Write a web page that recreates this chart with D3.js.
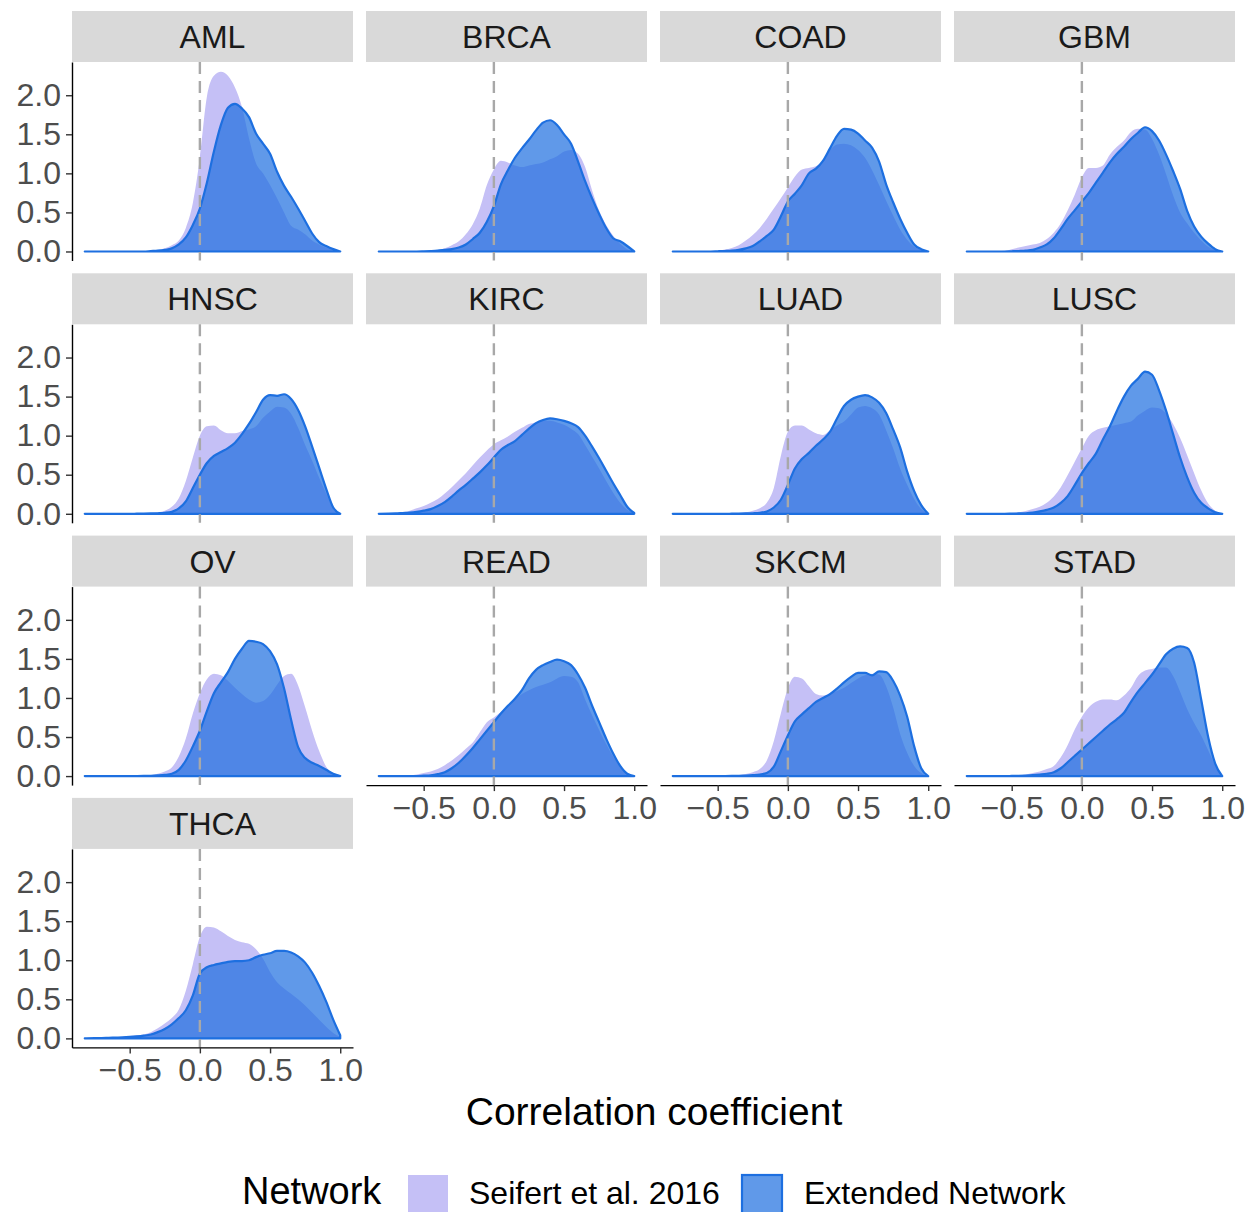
<!DOCTYPE html>
<html>
<head>
<meta charset="utf-8">
<script src="https://cdn.jsdelivr.net/npm/d3@7"></script>
<style>
  body { margin: 0; background: #fff; }
  svg { display: block; font-family: "Liberation Sans", Arial, Helvetica, sans-serif; }
</style>
</head>
<body>
<svg id="chart" width="1249" height="1212"></svg>
<script>
// Cancer types, in facet order (4 columns, wrapped)
const cancerTypes = ["AML", "BRCA", "COAD", "GBM", "HNSC", "KIRC", "LUAD", "LUSC",
                     "OV", "READ", "SKCM", "STAD", "THCA"];

// Correlation coefficient grid on which the densities are given
const gridX = [-0.82, -0.75, -0.70, -0.65, -0.60, -0.55, -0.50, -0.45, -0.40, -0.35,
               -0.30, -0.25, -0.20, -0.15, -0.10, -0.05, 0.00, 0.05, 0.10, 0.15,
               0.20, 0.25, 0.30, 0.35, 0.40, 0.45, 0.50, 0.55, 0.60, 0.65,
               0.70, 0.75, 0.80, 0.85, 0.90, 0.95, 1.00];

// Density of correlation coefficients, Seifert et al. 2016 network
const seifertAML  = [0,0,0,0,0,0, 0,0,0,0.01,0.02,0.04,0.08,0.14,0.30,0.62, 1.20,1.98,2.25,2.30,2.25,2.10,1.85,1.45,1.13,1.00, 0.85,0.68,0.50,0.33,0.28,0.22,0.14,0.09,0.05,0.02, 0];
const seifertBRCA = [0,0,0,0,0,0, 0.005,0.01,0.02,0.04,0.08,0.13,0.22,0.35,0.55,0.85, 1.05,1.16,1.14,1.10,1.08,1.10,1.12,1.14,1.18,1.22, 1.28,1.30,1.25,1.08,0.78,0.52,0.34,0.20,0.10,0.03, 0];
const seifertCOAD = [0,0,0,0,0,0.005, 0.01,0.025,0.045,0.08,0.14,0.21,0.30,0.42,0.55,0.68, 0.82,0.96,1.05,1.07,1.09,1.16,1.30,1.37,1.38,1.36, 1.30,1.20,1.04,0.85,0.65,0.46,0.28,0.15,0.06,0.02, 0];
const seifertGBM  = [0,0,0,0,0.005,0.01, 0.03,0.05,0.07,0.09,0.11,0.16,0.24,0.36,0.53,0.73, 0.95,1.07,1.07,1.10,1.24,1.34,1.42,1.53,1.57,1.56, 1.44,1.24,0.99,0.72,0.50,0.36,0.24,0.14,0.06,0.02, 0];
const seifertHNSC = [0,0,0,0,0,0, 0,0.002,0.005,0.01,0.02,0.04,0.09,0.20,0.42,0.72, 1.00,1.12,1.13,1.07,1.03,1.03,1.06,1.08,1.12,1.23, 1.31,1.37,1.36,1.28,1.10,0.88,0.68,0.46,0.26,0.06, 0];
const seifertKIRC = [0,0.005,0.01,0.02,0.04,0.07, 0.10,0.14,0.19,0.26,0.34,0.43,0.52,0.62,0.72,0.81, 0.89,0.94,0.99,1.05,1.10,1.15,1.17,1.19,1.19,1.17, 1.14,1.09,1.02,0.88,0.73,0.58,0.42,0.27,0.14,0.05, 0.01];
const seifertLUAD = [0,0,0,0,0,0, 0,0.002,0.005,0.01,0.02,0.04,0.07,0.14,0.33,0.74, 1.05,1.13,1.13,1.08,1.03,1.01,1.07,1.13,1.18,1.27, 1.36,1.38,1.35,1.27,1.07,0.84,0.58,0.37,0.19,0.06, 0];
const seifertLUSC = [0,0,0,0,0.002,0.005, 0.01,0.02,0.035,0.06,0.09,0.14,0.22,0.34,0.50,0.67, 0.84,1.00,1.07,1.10,1.12,1.14,1.16,1.18,1.26,1.32, 1.36,1.35,1.28,1.15,0.97,0.75,0.52,0.30,0.13,0.04, 0];
const seifertOV   = [0,0,0,0,0,0, 0.001,0.003,0.006,0.012,0.03,0.06,0.11,0.25,0.48,0.80, 1.06,1.24,1.31,1.29,1.22,1.13,1.05,0.98,0.94,0.96, 1.04,1.17,1.28,1.31,1.16,0.88,0.58,0.32,0.12,0.03, 0];
const seifertREAD = [0,0,0,0.005,0.01,0.02, 0.04,0.06,0.09,0.14,0.20,0.27,0.35,0.43,0.56,0.69, 0.75,0.82,0.90,0.98,1.05,1.10,1.14,1.17,1.20,1.25, 1.28,1.27,1.20,0.98,0.78,0.59,0.41,0.25,0.12,0.04, 0];
const seifertSKCM = [0,0,0,0,0,0, 0.001,0.003,0.006,0.012,0.025,0.05,0.09,0.20,0.45,0.80, 1.12,1.27,1.25,1.15,1.05,1.03,1.06,1.09,1.13,1.19, 1.25,1.29,1.31,1.30,1.15,0.88,0.54,0.30,0.13,0.04, 0];
const seifertSTAD = [0,0,0,0,0,0.002, 0.005,0.01,0.02,0.04,0.06,0.09,0.13,0.24,0.40,0.60, 0.76,0.88,0.95,0.98,0.98,0.97,1.03,1.13,1.28,1.35, 1.37,1.39,1.39,1.28,1.08,0.86,0.68,0.52,0.33,0.14, 0];
const seifertTHCA = [0,0.005,0.008,0.012,0.016,0.022, 0.03,0.04,0.05,0.08,0.13,0.19,0.26,0.37,0.61,0.95, 1.30,1.43,1.42,1.37,1.31,1.26,1.23,1.21,1.14,1.02, 0.85,0.72,0.64,0.57,0.50,0.42,0.33,0.24,0.15,0.07, 0.02];

// Density of correlation coefficients, extended network
const extendedAML  = [0,0,0,0,0,0, 0,0,0,0.005,0.01,0.02,0.04,0.09,0.18,0.34, 0.55,0.88,1.28,1.62,1.84,1.89,1.83,1.72,1.51,1.38, 1.25,1.02,0.84,0.70,0.55,0.39,0.23,0.12,0.07,0.03, 0];
const extendedBRCA = [0,0,0,0,0,0, 0.002,0.005,0.01,0.02,0.03,0.05,0.09,0.16,0.24,0.38, 0.58,0.86,1.04,1.20,1.32,1.43,1.55,1.65,1.68,1.62, 1.50,1.38,1.15,0.90,0.68,0.48,0.30,0.17,0.13,0.07, 0];
const extendedCOAD = [0,0,0,0,0,0, 0.003,0.006,0.01,0.02,0.04,0.07,0.13,0.20,0.28,0.45, 0.64,0.74,0.85,1.00,1.06,1.16,1.32,1.48,1.57,1.56, 1.51,1.42,1.33,1.15,0.86,0.63,0.42,0.24,0.09,0.03, 0];
const extendedGBM  = [0,0,0,0,0,0, 0.003,0.006,0.01,0.02,0.05,0.09,0.17,0.29,0.42,0.53, 0.64,0.75,0.88,1.01,1.14,1.25,1.34,1.44,1.52,1.59, 1.54,1.42,1.24,1.03,0.80,0.52,0.32,0.19,0.10,0.03, 0];
const extendedHNSC = [0,0,0,0,0,0, 0,0.001,0.002,0.004,0.007,0.012,0.025,0.07,0.16,0.33, 0.50,0.65,0.74,0.79,0.84,0.91,1.02,1.15,1.30,1.46, 1.52,1.51,1.53,1.47,1.33,1.12,0.86,0.59,0.32,0.08, 0];
const extendedKIRC = [0,0.002,0.005,0.01,0.015,0.025, 0.04,0.06,0.10,0.15,0.22,0.30,0.37,0.45,0.53,0.62, 0.72,0.82,0.88,0.93,1.01,1.09,1.16,1.20,1.22,1.21, 1.19,1.16,1.11,1.00,0.86,0.71,0.55,0.39,0.24,0.09, 0.01];
const extendedLUAD = [0,0,0,0,0,0, 0,0,0.001,0.002,0.004,0.007,0.012,0.03,0.08,0.18, 0.37,0.58,0.70,0.78,0.87,0.95,1.05,1.22,1.38,1.46, 1.50,1.52,1.49,1.42,1.29,1.08,0.85,0.54,0.29,0.11, 0];
const extendedLUSC = [0,0,0,0,0,0, 0.002,0.004,0.007,0.015,0.03,0.05,0.08,0.14,0.23,0.37, 0.52,0.65,0.77,0.95,1.12,1.32,1.50,1.64,1.73,1.82, 1.78,1.58,1.32,1.02,0.72,0.47,0.27,0.14,0.07,0.02, 0];
const extendedOV   = [0,0,0,0,0,0, 0,0.001,0.002,0.004,0.008,0.015,0.03,0.08,0.20,0.38, 0.58,0.83,1.06,1.20,1.33,1.50,1.63,1.73,1.72,1.69, 1.60,1.43,1.12,0.72,0.37,0.23,0.17,0.13,0.08,0.03, 0];
const extendedREAD = [0,0,0,0,0,0, 0.005,0.01,0.025,0.05,0.10,0.17,0.26,0.36,0.47,0.58, 0.69,0.80,0.90,0.99,1.10,1.25,1.36,1.42,1.46,1.49, 1.47,1.42,1.30,1.13,0.90,0.69,0.48,0.29,0.13,0.03, 0];
const extendedSKCM = [0,0,0,0,0,0, 0,0.001,0.002,0.004,0.007,0.012,0.02,0.04,0.12,0.32, 0.52,0.70,0.79,0.87,0.95,1.00,1.05,1.12,1.20,1.27, 1.32,1.32,1.29,1.34,1.33,1.22,1.03,0.76,0.38,0.10, 0];
const extendedSTAD = [0,0,0,0,0,0, 0.002,0.004,0.007,0.012,0.02,0.03,0.05,0.10,0.18,0.26, 0.34,0.42,0.50,0.58,0.66,0.73,0.81,0.95,1.08,1.19, 1.30,1.43,1.56,1.63,1.66,1.64,1.45,0.98,0.50,0.16, 0];
const extendedTHCA = [0,0.003,0.005,0.007,0.01,0.013, 0.018,0.025,0.035,0.05,0.08,0.12,0.18,0.26,0.36,0.55, 0.83,0.91,0.94,0.96,0.98,0.99,0.99,1.00,1.04,1.07, 1.09,1.12,1.12,1.10,1.05,0.97,0.84,0.67,0.47,0.24, 0.04];

// Axis ticks and legend entries
const xTicks = [-0.5, 0, 0.5, 1.0];
const yTicks = [0, 0.5, 1.0, 1.5, 2.0];
const networkNames = ["Seifert et al. 2016", "Extended Network"];

const seifertByType = {
  AML: seifertAML, BRCA: seifertBRCA, COAD: seifertCOAD, GBM: seifertGBM,
  HNSC: seifertHNSC, KIRC: seifertKIRC, LUAD: seifertLUAD, LUSC: seifertLUSC,
  OV: seifertOV, READ: seifertREAD, SKCM: seifertSKCM, STAD: seifertSTAD, THCA: seifertTHCA
};
const extendedByType = {
  AML: extendedAML, BRCA: extendedBRCA, COAD: extendedCOAD, GBM: extendedGBM,
  HNSC: extendedHNSC, KIRC: extendedKIRC, LUAD: extendedLUAD, LUSC: extendedLUSC,
  OV: extendedOV, READ: extendedREAD, SKCM: extendedSKCM, STAD: extendedSTAD, THCA: extendedTHCA
};

// ---- layout ----
const nCols = 4;
const panelLeft0 = 72, panelW = 281, colStep = 294;
const stripTop0 = 11, stripH = 51, panelH = 198.5, rowStep = 262.3;

const fillSeifert = "#c5c0f6";
const fillExtended = "rgba(28,110,224,0.70)";
const strokeExtended = "#1d6fe0";
const textGray = "#4d4d4d";
const tickFont = 32, stripFont = 32;

const svg = d3.select("#chart");

const x = d3.scaleLinear().domain([-0.911, 1.091]).range([0, panelW]);
const y = d3.scaleLinear().domain([-0.1155, 2.4255]).range([panelH, 0]);

const area = d3.area()
  .x(d => x(d[0]))
  .y0(y(0))
  .y1(d => y(d[1]))
  .curve(d3.curveMonotoneX);

cancerTypes.forEach((type, i) => {
  const col = i % nCols, row = Math.floor(i / nCols);
  const left = panelLeft0 + col * colStep;
  const stripTop = stripTop0 + row * rowStep;
  const top = stripTop + stripH;

  // strip
  const strip = svg.append("g").attr("transform", `translate(${left},${stripTop})`);
  strip.append("rect").attr("width", panelW).attr("height", stripH).attr("fill", "#d9d9d9");
  strip.append("text")
    .attr("x", panelW / 2).attr("y", stripH / 2)
    .attr("dy", "0.36em")
    .attr("text-anchor", "middle")
    .attr("font-size", stripFont)
    .attr("fill", "#1a1a1a")
    .text(type);

  const g = svg.append("g").attr("transform", `translate(${left},${top})`);

  const sData = gridX.map((v, k) => [v, seifertByType[type][k]]);
  const eData = gridX.map((v, k) => [v, extendedByType[type][k]]);

  g.append("path").attr("d", area(sData)).attr("fill", fillSeifert);
  g.append("path").attr("d", area(eData))
    .attr("fill", fillExtended)
    .attr("stroke", strokeExtended)
    .attr("stroke-width", 2.2)
    .attr("stroke-linejoin", "round");

  // reference line at zero correlation
  g.append("line")
    .attr("x1", x(0)).attr("x2", x(0))
    .attr("y1", 0).attr("y2", panelH)
    .attr("stroke", "#a8a8a8")
    .attr("stroke-width", 2.4)
    .attr("stroke-dasharray", "12,7");

  // y axis on the first column
  if (col === 0) {
    const ay = g.append("g").call(
      d3.axisLeft(y).tickValues(yTicks).tickFormat(d3.format(".1f"))
        .tickSize(6).tickSizeOuter(0).tickPadding(5));
    ay.select(".domain").attr("stroke", "#000").attr("stroke-width", 1.4);
    ay.selectAll(".tick line").attr("stroke", "#333").attr("stroke-width", 1.4);
    ay.selectAll(".tick text").attr("fill", textGray).attr("font-size", tickFont)
      .attr("font-family", "Liberation Sans, Arial, sans-serif");
  }

  // x axis under the lowest panel of each column
  const lastInCol = (row + 1) * nCols + col >= cancerTypes.length;
  if (lastInCol) {
    const ax = g.append("g").attr("transform", `translate(0,${panelH})`).call(
      d3.axisBottom(x).tickValues(xTicks).tickFormat(d3.format(".1f"))
        .tickSize(6).tickSizeOuter(0).tickPadding(5));
    ax.select(".domain").attr("stroke", "#000").attr("stroke-width", 1.4);
    ax.selectAll(".tick line").attr("stroke", "#333").attr("stroke-width", 1.4);
    ax.selectAll(".tick text").attr("fill", textGray).attr("font-size", tickFont)
      .attr("font-family", "Liberation Sans, Arial, sans-serif");
  }
});

// x axis title
svg.append("text")
  .attr("x", 654).attr("y", 1125)
  .attr("text-anchor", "middle")
  .attr("font-size", 39)
  .attr("fill", "#000")
  .text("Correlation coefficient");

// legend
const legend = svg.append("g");
legend.append("text")
  .attr("x", 242).attr("y", 1204)
  .attr("font-size", 38).attr("fill", "#000")
  .text("Network");

const legendKeyX = [408, 742];
const legendLabelX = [469, 804];
networkNames.forEach((name, k) => {
  legend.append("rect")
    .attr("x", legendKeyX[k]).attr("y", 1175)
    .attr("width", 40).attr("height", 40)
    .attr("fill", k === 0 ? fillSeifert : fillExtended)
    .attr("stroke", k === 0 ? "none" : strokeExtended)
    .attr("stroke-width", 2.2);
  legend.append("text")
    .attr("x", legendLabelX[k]).attr("y", 1204)
    .attr("font-size", 32).attr("fill", "#000")
    .text(name);
});
</script>
</body>
</html>
